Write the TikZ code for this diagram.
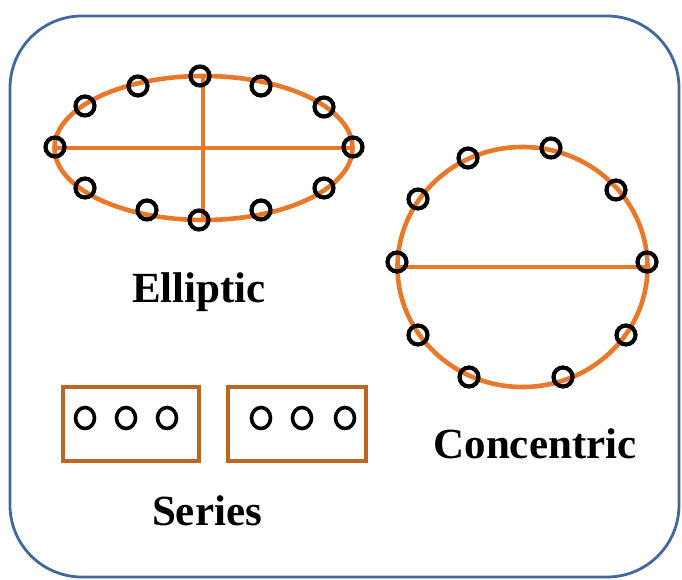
\documentclass[tikz,border=0pt]{standalone}
\usepackage{fontspec}
\setmainfont{Liberation Serif}
\usetikzlibrary{shapes.geometric}
\begin{document}
\begin{tikzpicture}[x=1pt,y=-1pt,
  ring/.style={circle,draw=black,line width=4.2pt,minimum size=19pt,inner sep=0pt},
  sring/.style={ellipse,draw=black,line width=3.6pt,minimum width=19pt,minimum height=21pt,inner sep=0pt},
  orangeline/.style={draw=orng,line width=4.6pt},
  thinorange/.style={draw=orng,line width=3.6pt},
  seriesbox/.style={draw=boxc,line width=4.8pt},
  lbl/.style={font=\fontsize{43}{48}\selectfont\bfseries,inner sep=0pt,anchor=base}]
\definecolor{orng}{HTML}{E8792A}
\definecolor{boxc}{HTML}{C0651E}
\definecolor{frame}{HTML}{41689C}
\useasboundingbox (0,0) rectangle (682,580);
% outer frame
\draw[frame,line width=2.8pt,rounded corners=72pt] (10,16) rectangle (679,577);

% ---------- Elliptic ----------
\draw[orangeline] (203.5,148) ellipse [x radius=149pt, y radius=72pt];
\coordinate (eL) at (55,148);
\coordinate (eR) at (353,148);
\coordinate (eT) at (203,76);
\coordinate (eB) at (203,220);
\draw[thinorange] (eL) -- (eR);
\draw[thinorange] (eT) -- (eB);
\node[ring] (e1) at (55,147) {};
\node[ring] (e2) at (85,106) {};
\node[ring] (e3) at (138,86) {};
\node[ring] (e4) at (200,76) {};
\node[ring] (e5) at (261,86) {};
\node[ring] (e6) at (324,107) {};
\node[ring] (e7) at (353,147) {};
\node[ring] (e8) at (324,188) {};
\node[ring] (e9) at (261,210) {};
\node[ring] (e10) at (199,220) {};
\node[ring] (e11) at (147,210) {};
\node[ring] (e12) at (85,188) {};
\node[lbl] (elab) at (199,302) {Elliptic};

% ---------- Concentric ----------
\draw[orangeline] (522.5,267) ellipse [x radius=125pt, y radius=120pt];
\coordinate (cL) at (397,267);
\coordinate (cR) at (648,267);
\draw[thinorange] (cL) -- (cR);
\node[ring] (c1) at (397,262) {};
\node[ring] (c2) at (418,199) {};
\node[ring] (c3) at (468,158) {};
\node[ring] (c4) at (551,148) {};
\node[ring] (c5) at (616,190) {};
\node[ring] (c6) at (647,262) {};
\node[ring] (c7) at (626,335) {};
\node[ring] (c8) at (563,377) {};
\node[ring] (c9) at (469,377) {};
\node[ring] (c10) at (418,335) {};
\node[lbl] (clab) at (535,458) {Concentric};

% ---------- Series ----------
\draw[seriesbox] (63,387) rectangle (199,461);
\draw[seriesbox] (228,387) rectangle (366,461);
\node[sring] (s1) at (85,418) {};
\node[sring] (s2) at (126,418) {};
\node[sring] (s3) at (167,418) {};
\node[sring] (s4) at (261,418) {};
\node[sring] (s5) at (302,418) {};
\node[sring] (s6) at (345,418) {};
\node[lbl] (slab) at (207,525) {Series};
\end{tikzpicture}
\end{document}
